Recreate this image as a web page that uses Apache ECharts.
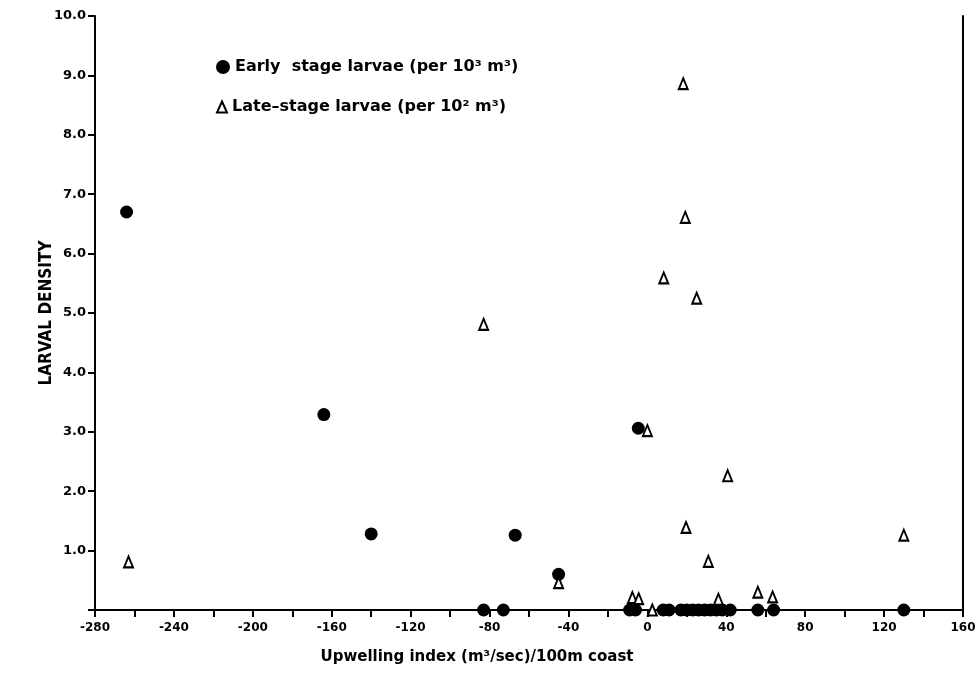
<!DOCTYPE html>
<html>
<head>
<meta charset="utf-8">
<script src="https://cdn.jsdelivr.net/npm/echarts@6/dist/echarts.min.js"></script>
<style>
    html,body{margin:0;padding:0;background:#fff;}
    #chart{width:979px;height:695px;}
</style>
</head>
<body>
<div id="chart"></div>
<script>
// values (upwelling index, larval density)
var earlyX = [-264, -164, -140, -67, -45, -4.6, -83, -73, -9, -6, 8, 11, 17, 20, 23, 26, 29, 32, 35, 38, 42, 56, 64, 130];
var earlyY = [6.7, 3.29, 1.28, 1.26, 0.6, 3.06, 0, 0, 0, 0, 0, 0, 0, 0, 0, 0, 0, 0, 0, 0, 0, 0, 0, 0];
var lateX = [-263, -83, -45, -7.6, -4.4, 0, 2.5, 8.3, 18.2, 19.2, 19.6, 25, 30.9, 36, 40.7, 56, 63.5, 130];
var lateY = [0.81, 4.81, 0.46, 0.21, 0.19, 3.02, 0, 5.59, 8.86, 6.61, 1.39, 5.25, 0.82, 0.18, 2.26, 0.3, 0.22, 1.26];
var xTicks = [-280, 160, 40];
var yTicks = [0, 10, 1];
var earlyName = 'Early  stage larvae (per 10³ m³)';
var lateName = 'Late\u2013stage larvae (per 10² m³)';

function pairs(xs, ys) {
    var out = [];
    for (var i = 0; i < xs.length; i++) {
        out.push([xs[i], ys[i]]);
    }
    return out;
}

var chart = echarts.init(document.getElementById('chart'));
var font = '"DejaVu Sans", "Liberation Sans", sans-serif';
var narrow = '"DejaVu Sans Condensed", "DejaVu Sans", sans-serif';

var legendText = {
    fontFamily: font,
    fontSize: 16,
    fontWeight: 'bold',
    color: '#000'
};

var option = {
    animation: false,
    backgroundColor: '#fff',
    grid: {
        left: 95,
        right: 16,
        top: 16,
        bottom: 85
    },
    // two legends so each icon gets its own size
    legend: [{
        left: 211,
        top: 54,
        itemWidth: 14,
        itemHeight: 14,
        textStyle: legendText,
        data: [earlyName]
    }, {
        left: 211,
        top: 94,
        itemWidth: 10,
        itemHeight: 11,
        textStyle: legendText,
        data: [lateName]
    }],
    xAxis: {
        type: 'value',
        min: xTicks[0],
        max: xTicks[1],
        interval: xTicks[2],
        name: 'Upwelling index (m³/sec)/100m coast',
        nameLocation: 'middle',
        nameGap: 40,
        nameMoveOverlap: false,
        nameTextStyle: {
            fontFamily: font,
            fontSize: 15,
            fontWeight: 'bold',
            color: '#000',
            // the title sits left of the axis centre in the original
            padding: [0, 104, 0, 0]
        },
        axisLine: {show: true, onZero: false, lineStyle: {color: '#000', width: 2}},
        axisTick: {show: true, length: 7, lineStyle: {color: '#000', width: 2}},
        minorTick: {show: true, splitNumber: 2, length: 7, lineStyle: {color: '#000', width: 2}},
        axisLabel: {
            fontFamily: font,
            fontSize: 12,
            fontWeight: 'bold',
            color: '#000',
            margin: 12
        },
        splitLine: {show: false}
    },
    yAxis: [{
        type: 'value',
        min: yTicks[0],
        max: yTicks[1],
        interval: yTicks[2],
        name: 'LARVAL DENSITY',
        nameLocation: 'middle',
        nameGap: 40,
        nameMoveOverlap: false,
        nameTextStyle: {
            fontFamily: narrow,
            fontSize: 17,
            fontWeight: 'bold',
            color: '#000'
        },
        axisLine: {show: true, onZero: false, lineStyle: {color: '#000', width: 2}},
        axisTick: {show: true, length: 7, lineStyle: {color: '#000', width: 2}},
        axisLabel: {
            fontFamily: font,
            fontSize: 13,
            fontWeight: 'bold',
            color: '#000',
            margin: 9,
            formatter: function (v) {
                return v === 0 ? '' : v.toFixed(1);
            }
        },
        splitLine: {show: false}
    }, {
        // right frame line only
        type: 'value',
        position: 'right',
        min: yTicks[0],
        max: yTicks[1],
        axisLine: {show: true, onZero: false, lineStyle: {color: '#000', width: 2}},
        axisTick: {show: false},
        axisLabel: {show: false},
        splitLine: {show: false}
    }],
    series: [
        {
            name: earlyName,
            type: 'scatter',
            symbol: 'circle',
            symbolSize: 13,
            clip: false,
            z: 2,
            itemStyle: {color: '#000', opacity: 1},
            data: pairs(earlyX, earlyY)
        },
        {
            name: lateName,
            type: 'scatter',
            symbol: 'triangle',
            symbolSize: [9, 11],
            clip: false,
            z: 3,
            itemStyle: {color: '#fff', borderColor: '#000', borderWidth: 2, opacity: 1},
            data: pairs(lateX, lateY)
        }
    ]
};
chart.setOption(option);
</script>
</body>
</html>
